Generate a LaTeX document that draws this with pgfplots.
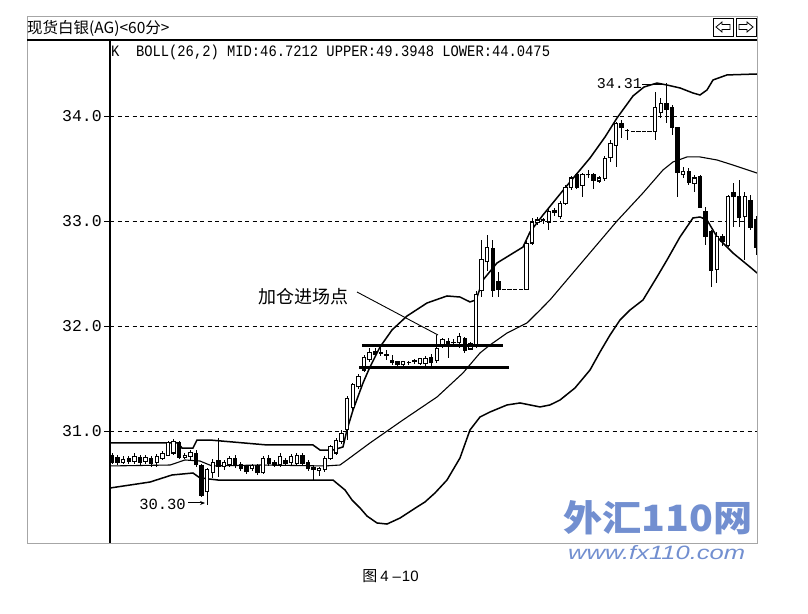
\documentclass[border=0pt]{standalone}
\usepackage{graphicx}
\usepackage{pgfplots}
\pgfplotsset{compat=1.18}
\usepackage{pgfplotstable}
\usepackage{fontspec}
\usetikzlibrary{arrows.meta}
\setmainfont{Liberation Serif}
\newfontfamily\cjk{Noto Sans CJK SC}
\newfontfamily\mono{Liberation Mono}
\newfontfamily\wmsans{Liberation Sans}
\definecolor{wmblue}{RGB}{114,143,208}

% hourly candles: index, open, high, low, close
\pgfplotstableread{
i o h l c
0 30.77 30.79 30.69 30.70
1 30.75 30.77 30.68 30.70
2 30.70 30.76 30.69 30.73
3 30.74 30.76 30.69 30.71
4 30.71 30.79 30.69 30.76
5 30.75 30.77 30.68 30.70
6 30.71 30.77 30.69 30.75
7 30.74 30.76 30.66 30.69
8 30.70 30.78 30.66 30.76
9 30.74 30.81 30.72 30.79
10 30.77 30.90 30.76 30.89
11 30.79 30.92 30.77 30.90
12 30.89 30.90 30.73 30.75
13 30.75 30.79 30.73 30.77
14 30.76 30.82 30.72 30.80
15 30.79 30.82 30.66 30.68
16 30.67 30.69 30.37 30.39
17 30.42 30.65 30.30 30.63
18 30.60 30.73 30.55 30.70
19 30.72 30.93 30.56 30.66
20 30.66 30.72 30.63 30.70
21 30.68 30.76 30.66 30.74
22 30.74 30.77 30.65 30.67
23 30.68 30.70 30.62 30.64
24 30.66 30.68 30.59 30.61
25 30.64 30.69 30.62 30.67
26 30.67 30.69 30.58 30.60
27 30.60 30.76 30.59 30.74
28 30.74 30.77 30.67 30.69
29 30.70 30.72 30.66 30.68
30 30.68 30.79 30.66 30.76
31 30.72 30.74 30.67 30.69
32 30.70 30.78 30.68 30.76
33 30.69 30.79 30.67 30.77
34 30.77 30.79 30.67 30.69
35 30.70 30.72 30.62 30.64
36 30.65 30.67 30.53 30.63
37 30.62 30.66 30.57 30.64
38 30.63 30.76 30.61 30.74
39 30.74 30.87 30.72 30.85
40 30.79 30.93 30.77 30.91
41 30.90 31.01 30.88 30.98
42 31.01 31.33 30.91 31.31
43 31.22 31.46 31.20 31.44
44 31.42 31.54 31.40 31.52
45 31.58 31.72 31.56 31.70
46 31.68 31.79 31.66 31.75
47 31.76 31.79 31.70 31.73
48 31.74 31.80 31.71 31.75
49 31.73 31.77 31.68 31.72
50 31.67 31.72 31.63 31.65
51 31.66 31.67 31.62 31.63
52 31.63 31.67 31.62 31.66
53 31.65 31.67 31.63 31.65
54 31.66 31.69 31.64 31.67
55 31.64 31.70 31.63 31.69
56 31.64 31.71 31.62 31.69
57 31.70 31.73 31.61 31.65
58 31.67 31.91 31.65 31.79
59 31.82 31.89 31.79 31.87
60 31.85 31.89 31.70 31.82
61 31.84 31.88 31.80 31.84
62 31.84 31.93 31.79 31.90
63 31.88 31.90 31.74 31.77
64 31.78 31.85 31.77 31.83
65 31.81 32.33 31.79 32.30
66 32.34 32.82 32.28 32.63
67 32.61 32.87 32.52 32.75
68 32.74 32.82 32.28 32.34
69 32.42 32.51 32.28 32.35
70 32.35 32.35 32.35 32.35
71 32.35 32.35 32.35 32.35
72 32.35 32.35 32.35 32.35
73 32.35 32.35 32.35 32.35
74 32.35 32.81 32.34 32.79
75 32.79 33.03 32.77 32.99
76 32.99 33.04 32.96 33.01
77 33.01 33.03 32.97 33.00
78 32.99 33.11 32.91 33.09
79 33.10 33.12 33.05 33.08
80 33.04 33.19 33.02 33.17
81 33.17 33.34 33.15 33.32
82 33.32 33.43 33.30 33.41
83 33.44 33.46 33.30 33.32
84 33.34 33.46 33.23 33.44
85 33.44 33.49 33.41 33.44
86 33.44 33.46 33.30 33.39
87 33.38 33.43 33.36 33.41
88 33.40 33.62 33.38 33.60
89 33.60 33.77 33.56 33.74
90 33.72 33.94 33.51 33.93
91 33.93 33.96 33.79 33.89
92 33.86 33.88 33.77 33.86
93 33.85 33.85 33.85 33.85
94 33.85 33.85 33.85 33.85
95 33.85 33.85 33.85 33.85
96 33.85 33.85 33.85 33.85
97 33.85 34.23 33.77 34.08
98 34.03 34.17 33.98 34.12
99 34.12 34.31 33.93 34.06
100 34.08 34.10 33.82 33.89
101 33.89 33.90 33.23 33.46
102 33.44 33.51 33.41 33.47
103 33.47 33.50 33.34 33.37
104 33.36 33.44 33.28 33.41
105 33.42 33.44 33.12 33.13
106 33.09 33.13 32.77 32.85
107 32.90 32.91 32.37 32.53
108 32.54 32.90 32.41 32.85
109 32.85 32.88 32.76 32.80
110 32.77 33.25 32.75 33.23
111 33.27 33.36 32.94 33.23
112 33.23 33.39 32.94 33.03
113 33.04 33.28 32.63 33.23
114 33.20 33.25 32.91 32.94
115 33.01 33.05 32.68 32.75
}\candles

% Bollinger bands (26,2)
\pgfplotstableread{
i p
-0.36 30.886
11.79 30.886
12.5 30.838
14.46 30.838
15.18 30.914
17.5 30.914
27.68 30.867
35.89 30.867
37.14 30.819
39.46 30.819
41.25 30.848
41.96 31.010
43.04 31.200
44.82 31.457
46.07 31.610
47.86 31.800
50.0 31.962
52.68 32.095
56.25 32.219
59.82 32.286
62.14 32.276
63.93 32.229
65.0 32.248
66.25 32.438
68.75 32.600
71.07 32.676
73.39 32.752
74.64 32.895
76.96 33.057
80.89 33.314
85.36 33.600
88.04 33.800
90.18 33.981
93.04 34.191
95.0 34.276
97.32 34.314
99.11 34.295
101.43 34.267
103.75 34.219
105.0 34.200
106.25 34.248
107.32 34.343
109.82 34.391
115.18 34.400
}\upperband

\pgfplotstableread{
i p
-0.36 30.667
10.36 30.676
13.04 30.724
15.71 30.714
17.86 30.667
26.43 30.676
38.04 30.667
40.71 30.676
41.96 30.724
46.07 30.886
51.96 31.105
58.04 31.324
62.68 31.553
65.71 31.743
67.5 31.819
70.54 31.933
74.11 32.029
76.43 32.152
78.21 32.248
84.11 32.619
90.18 33.000
94.82 33.267
98.39 33.486
100.18 33.562
102.68 33.610
105.0 33.610
108.04 33.581
110.89 33.533
115.18 33.457
}\midband

\pgfplotstableread{
i p
-0.36 30.457
6.79 30.514
10.71 30.581
14.46 30.600
15.71 30.553
18.93 30.533
39.46 30.533
41.61 30.438
42.86 30.343
44.29 30.267
45.54 30.190
47.32 30.124
49.11 30.114
51.43 30.171
54.46 30.276
55.89 30.324
57.68 30.410
59.82 30.533
62.14 30.743
63.93 31.010
65.71 31.133
67.5 31.181
70.54 31.248
72.86 31.267
76.43 31.229
78.21 31.248
80.0 31.295
82.68 31.410
85.36 31.581
87.14 31.752
88.93 31.914
90.71 32.057
92.5 32.152
94.82 32.248
97.32 32.467
99.11 32.629
101.43 32.848
103.75 33.029
105.0 33.038
106.25 33.010
108.04 32.848
110.89 32.695
113.93 32.562
115.18 32.505
}\lowerband

\begin{document}
\begin{tikzpicture}[x=1pt,y=1pt]
\begin{axis}[
  at={(110pt,70pt)}, anchor=south west,
  scale only axis, width=647pt, height=503pt,
  xmin=-0.357, xmax=115.18, ymin=29.9333, ymax=34.7238,
  axis line style={draw=none},
  xtick=\empty,
  ytick={31,32,33,34}, yticklabels={31.0,32.0,33.0,34.0},
  ytick pos=left, tick align=outside, major tick length=6pt,
  tick style={black, line width=0.9pt},
  yticklabel style={font=\mono\fontsize{16.5}{16.5}\selectfont, anchor=east, inner sep=0pt, xshift=-2pt},
  ymajorgrids,
  grid style={black, line width=0.9pt, dash pattern=on 4pt off 3.5pt},
]
% bands
\addplot[black, line width=1.5pt] table[x=i, y=p] {\upperband};
\addplot[black, line width=1.1pt] table[x=i, y=p] {\midband};
\addplot[black, line width=1.5pt] table[x=i, y=p] {\lowerband};
% wicks
\addplot[draw=none, mark=none,
  error bars/.cd, y dir=both, y explicit, error mark=none,
  error bar style={draw=black, line width=1pt}]
  table[x=i, y expr={(\thisrow{h}+\thisrow{l})/2}, y error expr={(\thisrow{h}-\thisrow{l})/2}] {\candles};
% bodies
\addplot[draw=none, mark=none,
  error bars/.cd, y dir=plus, y explicit, error mark=none,
  error bar style={draw=black, line width=4.4pt}]
  table[x=i, y expr={min(\thisrow{o},\thisrow{c})-0.0045}, y error expr={abs(\thisrow{c}-\thisrow{o})+0.009}] {\candles};
% hollow inside of rising candles
\addplot[draw=none, mark=none,
  error bars/.cd, y dir=plus, y explicit, error mark=none,
  error bar style={draw=white, line width=2.4pt}]
  table[x=i, y expr={\thisrow{o}+0.006}, y error expr={max(\thisrow{c}-\thisrow{o}-0.012,0)}] {\candles};
% consolidation lines
\addplot[black, line width=2.6pt] coordinates {(44.64,31.812) (69.82,31.812)};
\addplot[black, line width=2.6pt] coordinates {(44.11,31.603) (70.89,31.603)};
\end{axis}

% frame
\draw[gray!70, line width=1pt] (27,596) -- (757,596) -- (757,70) -- (27,70) -- cycle;
\draw[black, line width=2pt] (27,573) -- (757,573);
\draw[black, line width=1.3pt] (110,573) -- (110,70);
% buttons
\draw[black, line width=0.9pt] (713,595) rectangle (733,577);
\draw[black, line width=0.9pt] (736,595) rectangle (756,577);
\draw[black, line width=0.8pt] (716,586) -- (722,591) -- (722,588.5) -- (730,588.5) -- (730,583.5) -- (722,583.5) -- (722,581) -- cycle;
\draw[black, line width=0.8pt] (753,586) -- (747,591) -- (747,588.5) -- (739,588.5) -- (739,583.5) -- (747,583.5) -- (747,581) -- cycle;

% texts
\node[anchor=west, inner sep=0pt] at (27,584.5) {\cjk\fontsize{15.5}{15.5}\selectfont 现货白银(AG)<60分>};
\node[anchor=west, inner sep=0pt] at (111,561) {\scalebox{1}[1.15]{\mono\fontsize{13.8}{14}\selectfont K~~BOLL(26,2) MID:46.7212 UPPER:49.3948 LOWER:44.0475}};
\node[anchor=east, inner sep=0pt] at (642,529) {\mono\fontsize{15}{15}\selectfont 34.31};
\draw[black, line width=1pt] (642,528) -- (665,528);
\node[anchor=east, inner sep=0pt] at (186,109) {\mono\fontsize{15.5}{15.5}\selectfont 30.30};
\draw[black, line width=1pt, -{Stealth[length=5pt,width=4pt]}] (188,110) -- (205,110);
\node[anchor=west, inner sep=0pt] at (258,316) {\cjk\fontsize{18}{18}\selectfont 加仓进场点};
\draw[black, line width=0.9pt] (357,321) -- (438,278);
\node[inner sep=0pt] at (390.5,37) {\cjk\fontsize{15}{15}\selectfont 图\hspace{3pt}{\wmsans 4\hspace{4pt}–\hspace{1pt}10}};

% watermark
\node[anchor=south west, inner sep=0pt] at (563,78) {\color{wmblue}\resizebox{189pt}{31pt}{\cjk\bfseries 外汇110网}};
\node[anchor=south west, inner sep=0pt] at (568,53) {\color{wmblue}\resizebox{177pt}{14pt}{\wmsans\itshape www.fx110.com}};

\pgfresetboundingbox
\path[use as bounding box] (0,0) rectangle (808,613);
\end{tikzpicture}
\end{document}
